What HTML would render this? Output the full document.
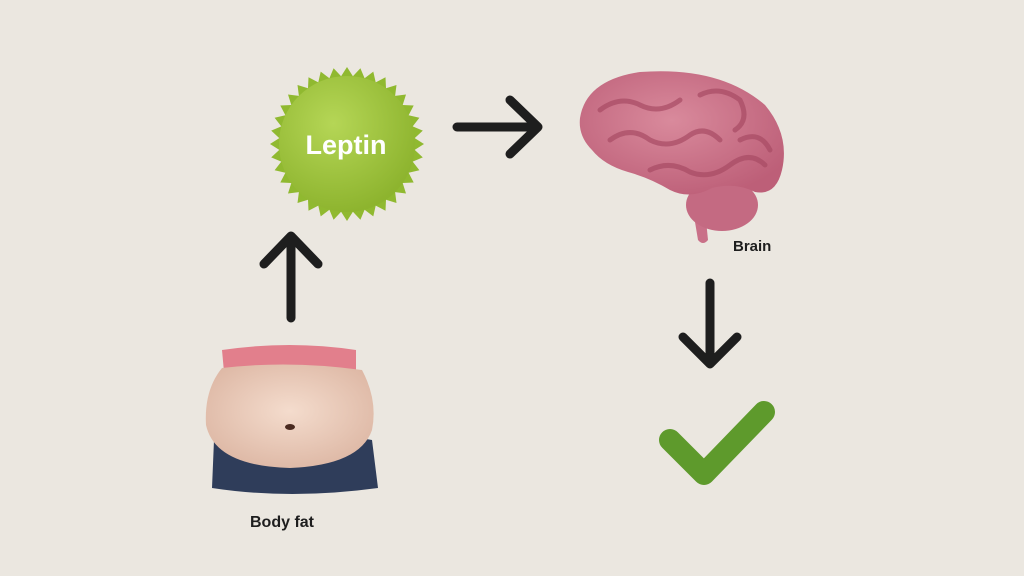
<!DOCTYPE html>
<html><head><style>
html,body{margin:0;padding:0;background:#ebe7e0;}
svg{display:block}
text{font-family:"Liberation Sans",sans-serif;font-weight:bold;}
</style></head><body>
<svg width="1024" height="576" viewBox="0 0 1024 576" xmlns="http://www.w3.org/2000/svg">
<defs>
<radialGradient id="g" cx="0.4" cy="0.35" r="0.7"><stop offset="0" stop-color="#b5d656"/><stop offset="1" stop-color="#8bb22c"/></radialGradient>
<radialGradient id="sk" cx="0.5" cy="0.45" r="0.6"><stop offset="0" stop-color="#f4dccd"/><stop offset="1" stop-color="#ddb7a4"/></radialGradient>
<radialGradient id="br" cx="0.45" cy="0.4" r="0.65"><stop offset="0" stop-color="#d98a9c"/><stop offset="1" stop-color="#bd5f78"/></radialGradient>
<polygon id="q" points="0,0 77,0 67.7,5.9 75.8,13.4 65.7,17.6 72.4,26.3 61.6,28.7 66.7,38.5 55.7,39 59,49.5 48.1,48.1 49.5,59 39,55.7 38.5,66.7 28.7,61.6 26.3,72.4 17.6,65.7 13.4,75.8 5.9,67.7 0,77"/>
</defs>
<rect width="1024" height="576" fill="#ebe7e0"/>
<g transform="translate(347,144)" fill="#90b930">
<use href="#q"/>
<use href="#q" transform="rotate(90)"/>
<use href="#q" transform="rotate(180)"/>
<use href="#q" transform="rotate(270)"/>
<circle r="68" fill="url(#g)"/>
</g>
<text x="346" y="154" font-size="27" fill="#fff" text-anchor="middle">Leptin</text>
<g stroke="#1e1e1e" stroke-width="9" fill="none" stroke-linecap="round" stroke-linejoin="round">
<path d="M291 318 V236 M264 264 L291 236 L318 264"/>
<path d="M457 127 H538 M510 100 L538 127 L510 154"/>
<path d="M710 283 V364 M683 337 L710 364 L737 337"/>
</g>
<path d="M670 440 L704 474 L764 412" stroke="#5e9a2c" stroke-width="22" fill="none" stroke-linecap="round" stroke-linejoin="round"/>
<path d="M704 200 L708 240 Q703 246 698 240 L692 204 Z" fill="#c97088"/>
<ellipse cx="722" cy="205" rx="36" ry="26" fill="#c46a82"/>
<path d="M580 118 Q586 80 640 72 Q720 66 765 105 Q790 135 782 170 Q776 196 755 192 Q735 182 712 188 Q690 200 670 190 Q650 178 628 172 Q604 165 592 150 Q578 136 580 118 Z" fill="url(#br)"/>
<g stroke="#a84b64" stroke-width="5" fill="none" stroke-linecap="round" opacity="0.7">
<path d="M600 110 Q620 95 640 105 Q660 115 680 100"/>
<path d="M610 140 Q630 125 650 140 Q670 150 690 135 Q705 125 720 140"/>
<path d="M700 95 Q720 85 740 100 Q750 120 735 130"/>
<path d="M650 170 Q670 160 690 172 Q710 180 730 165 Q750 150 765 165"/>
<path d="M740 140 Q760 130 770 150"/>
</g>
<text x="733" y="251" font-size="15" fill="#1e1e1e">Brain</text>
<path d="M214 440 Q290 425 372 440 L378 488 Q290 500 212 488 Z" fill="#2f3d5a"/>
<path d="M222 350 Q290 340 356 350 L356 372 Q290 366 224 372 Z" fill="#e27f8c"/>
<path d="M222 368 Q290 360 362 370 Q378 400 372 430 Q360 465 290 468 Q215 466 206 425 Q204 390 222 368 Z" fill="url(#sk)"/>
<ellipse cx="290" cy="427" rx="5" ry="3" fill="#4a2a20"/>
<text x="250" y="527" font-size="16" fill="#1e1e1e">Body fat</text>
</svg>
</body></html>
